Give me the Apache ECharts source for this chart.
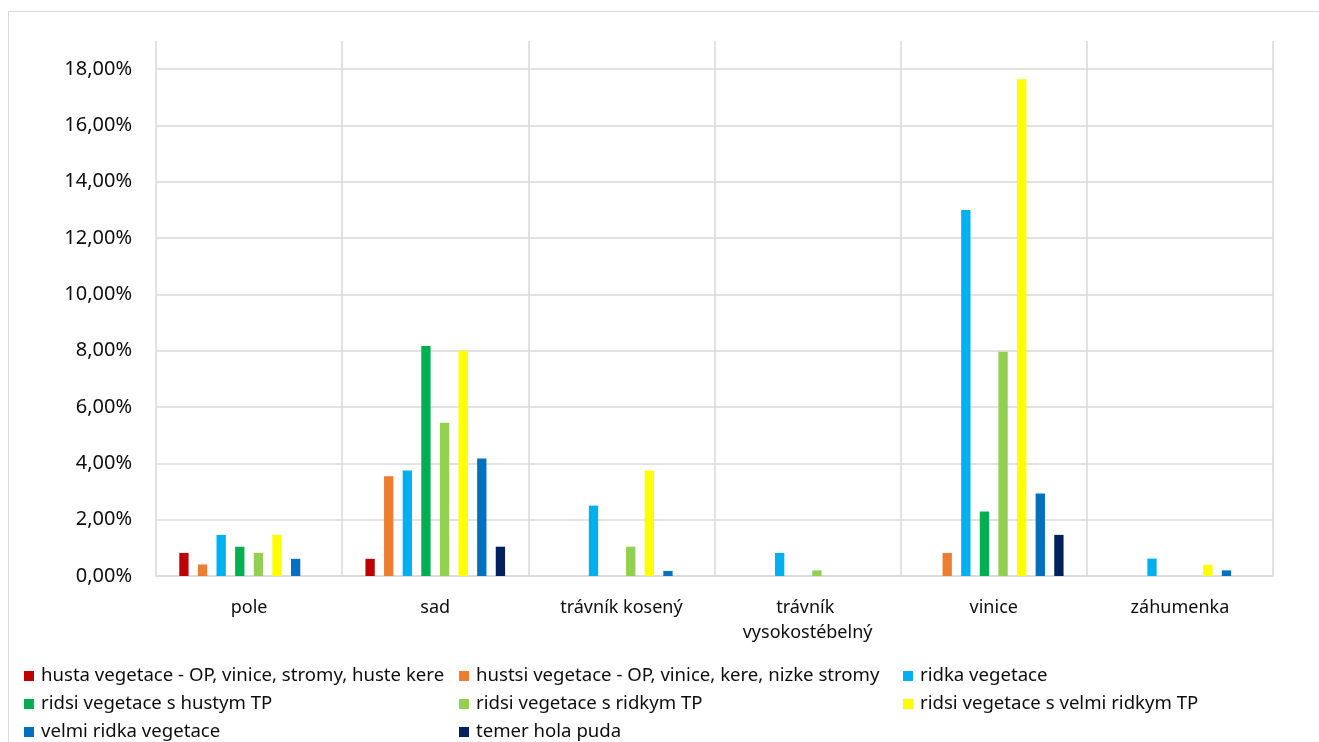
<!DOCTYPE html>
<html>
<head>
<meta charset="utf-8">
<script src="https://cdn.jsdelivr.net/npm/echarts@6/dist/echarts.min.js"></script>
<style>
  html, body { margin: 0; padding: 0; background: #fff; }
  #frame { position: absolute; left: 8px; top: 11px; width: 1400px; height: 800px;
           border-top: 1px solid #d9d9d9; border-left: 1px solid #d9d9d9; }
  #chart { position: absolute; left: 0; top: 0; width: 1319px; height: 742px; }
</style>
</head>
<body>
<div id="frame"></div>
<div id="chart"></div>
<script>
// Land-use categories on the x axis
const categories = ['pole', 'sad', 'trávník kosený', 'trávník vysokostébelný', 'vinice', 'záhumenka'];

// Vegetation classes (one bar series each)
const seriesNames = [
  'husta vegetace - OP, vinice, stromy, huste kere',
  'hustsi vegetace - OP, vinice, kere, nizke stromy',
  'ridka vegetace',
  'ridsi vegetace s hustym TP',
  'ridsi vegetace s ridkym TP',
  'ridsi vegetace s velmi ridkym TP',
  'velmi ridka vegetace',
  'temer hola puda'
];

// Shares in percent, per category
const hustaVegetace      = [0.82, 0.61, 0,    0,    0,     0];
const hustsiVegetace     = [0.41, 3.54, 0,    0,    0.82,  0];
const ridkaVegetace      = [1.46, 3.75, 2.50, 0.82, 13.00, 0.62];
const ridsiHustymTP      = [1.04, 8.17, 0,    0,    2.29,  0];
const ridsiRidkymTP      = [0.82, 5.44, 1.04, 0.20, 7.96,  0];
const ridsiVelmiRidkymTP = [1.46, 8.00, 3.75, 0,    17.64, 0.40];
const velmiRidka         = [0.61, 4.17, 0.18, 0,    2.93,  0.20];
const temerHolaPuda      = [0,    1.04, 0,    0,    1.46,  0];

const seriesValues = [hustaVegetace, hustsiVegetace, ridkaVegetace, ridsiHustymTP,
                      ridsiRidkymTP, ridsiVelmiRidkymTP, velmiRidka, temerHolaPuda];

const colors = ['#C00000', '#ED7D31', '#00B0F0', '#00B050', '#92D050', '#FFFF00', '#0070C0', '#002060'];

// Value axis ticks
const yMin = 0, yMax = 19, yStep = 2;

const fontFamily = '"Noto Sans", "Liberation Sans", Arial, sans-serif';
const textColor = '#0d0d0d';
const gridColor = '#d9d9d9';

const chart = echarts.init(document.getElementById('chart'), null, { renderer: 'canvas' });

// One vertical legend column per group of series
function legendBlock(indices, left) {
  return {
    orient: 'vertical',
    left: left,
    top: 666,
    height: 80,
    padding: 0,
    itemWidth: 10,
    itemHeight: 10,
    itemGap: 8,
    icon: 'rect',
    selectedMode: false,
    data: indices.map(i => seriesNames[i]),
    textStyle: { fontFamily, fontSize: 18.6, color: textColor, lineHeight: 20, padding: [0, 0, 0, 2] }
  };
}

chart.setOption({
  animation: false,
  color: colors,
  grid: { left: 156, right: 46, top: 41, bottom: 166, containLabel: false },
  legend: [
    legendBlock([0, 3, 6], 24),
    legendBlock([1, 4, 7], 459),
    legendBlock([2, 5], 903)
  ],
  xAxis: {
    type: 'category',
    data: categories,
    axisLine: { show: true, lineStyle: { color: gridColor, width: 1.5 } },
    axisTick: { show: false },
    splitLine: { show: true, lineStyle: { color: gridColor, width: 1.5 } },
    axisLabel: {
      interval: 0,
      margin: 19,
      fontFamily, fontSize: 18, color: textColor, lineHeight: 25,
      width: 175, overflow: 'break'
    }
  },
  yAxis: {
    type: 'value',
    min: yMin, max: yMax, interval: yStep,
    axisLine: { show: false },
    axisTick: { show: false },
    splitLine: { show: true, showMaxLine: false, lineStyle: { color: gridColor, width: 1.5 } },
    axisLabel: {
      margin: 24, showMaxLabel: false,
      fontFamily, fontSize: 20, color: textColor,
      formatter: v => v.toFixed(2).replace('.', ',') + '%'
    }
  },
  series: seriesNames.map((name, i) => ({
    name: name,
    type: 'bar',
    data: seriesValues[i],
    barGap: '100%',
    barCategoryGap: '25%',
    itemStyle: { color: colors[i] }
  }))
});
</script>
</body>
</html>
